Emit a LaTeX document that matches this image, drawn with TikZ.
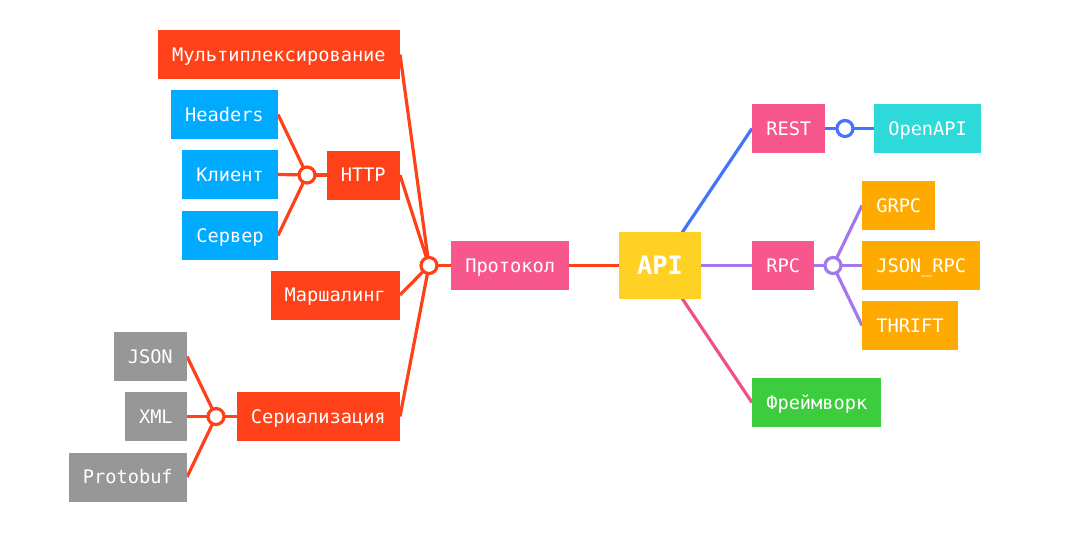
\documentclass[tikz,border=0pt]{standalone}
\usepackage{fontspec}
\setmonofont{DejaVu Sans Mono}
\usetikzlibrary{positioning,backgrounds}

\definecolor{redbox}{HTML}{FF4119}
\definecolor{bluebox}{HTML}{00AAFF}
\definecolor{greybox}{HTML}{979797}
\definecolor{pinkbox}{HTML}{F8578D}
\definecolor{yellowbox}{HTML}{FFD124}
\definecolor{cyanbox}{HTML}{2ED9D9}
\definecolor{orangebox}{HTML}{FFAA00}
\definecolor{greenbox}{HTML}{3DCC3D}
\definecolor{blueline}{HTML}{4474FF}
\definecolor{purpleline}{HTML}{A378EE}
\definecolor{pinkline}{HTML}{F0508A}

\begin{document}
\begin{tikzpicture}[
  x=0.75pt, y=-0.75pt,
  box/.style={inner xsep=10.5pt, minimum height=36.75pt,
    text height=10.2pt, text depth=0pt, text=white,
    font=\ttfamily\fontsize{14}{16}\selectfont},
  hub/.style={circle, draw=#1, line width=2.4pt, fill=white,
    inner sep=0pt, minimum size=12pt},
  link/.style={line width=2.4pt, draw=#1}
]%
  \useasboundingbox (0,0) rectangle (1070,536);

  % Protocol branch
  \node[box, fill=redbox, anchor=east] (mux) at (400,54.5) {Мультиплексирование};
  \node[box, fill=redbox, anchor=east] (http) at (400,175) {HTTP};
  \node[box, fill=redbox, anchor=east] (marsh) at (400,295) {Маршалинг};
  \node[box, fill=redbox, anchor=east] (serial) at (400,416.5) {Сериализация};
  \node[box, fill=bluebox, anchor=east] (headers) at (278,114.5) {Headers};
  \node[box, fill=bluebox, anchor=east] (client) at (278,174.5) {Клиент};
  \node[box, fill=bluebox, anchor=east] (server) at (278,235.5) {Сервер};
  \node[box, fill=greybox, anchor=east] (json) at (187,356.5) {JSON};
  \node[box, fill=greybox, anchor=east] (xml) at (187,416.5) {XML};
  \node[box, fill=greybox, anchor=east] (protobuf) at (187,477) {Protobuf};
  \node[box, fill=pinkbox, anchor=west] (proto) at (451,265.5) {Протокол};

  % Root
  \node[box, fill=yellowbox, minimum width=61.5pt, minimum height=50.25pt,
    text height=13.8pt, font=\ttfamily\bfseries\fontsize{19}{22}\selectfont]
    (api) at (660,265.5) {API};

  % Right branches
  \node[box, fill=pinkbox, anchor=west] (rest) at (752,128.5) {REST};
  \node[box, fill=cyanbox, anchor=west] (openapi) at (874,128.5) {OpenAPI};
  \node[box, fill=pinkbox, anchor=west] (rpc) at (752,265.5) {RPC};
  \node[box, fill=orangebox, anchor=west] (grpc) at (862,205.5) {GRPC};
  \node[box, fill=orangebox, anchor=west] (jsonrpc) at (862,265.5) {JSON\_RPC};
  \node[box, fill=orangebox, anchor=west] (thrift) at (862,325.5) {THRIFT};
  \node[box, fill=greenbox, anchor=west] (framework) at (752,402.5) {Фреймворк};

  % Junctions
  \node[hub=redbox] (jhttp) at (307,175) {};
  \node[hub=redbox] (jproto) at (429,265.5) {};
  \node[hub=redbox] (jserial) at (216,416.5) {};
  \node[hub=blueline] (jrest) at (845,128.5) {};
  \node[hub=purpleline] (jrpc) at (833,265.5) {};

  % Connectors
  \begin{pgfonlayer}{background}
    \draw[link=redbox] (proto.west) -- (jproto.center);
    \draw[link=redbox] (jproto.center) -- (mux.east);
    \draw[link=redbox] (jproto.center) -- (http.east);
    \draw[link=redbox] (jproto.center) -- (marsh.east);
    \draw[link=redbox] (jproto.center) -- (serial.east);
    \draw[link=redbox] (http.west) -- (jhttp.center);
    \draw[link=redbox] (jhttp.center) -- (headers.east);
    \draw[link=redbox] (jhttp.center) -- (client.east);
    \draw[link=redbox] (jhttp.center) -- (server.east);
    \draw[link=redbox] (serial.west) -- (jserial.center);
    \draw[link=redbox] (jserial.center) -- (json.east);
    \draw[link=redbox] (jserial.center) -- (xml.east);
    \draw[link=redbox] (jserial.center) -- (protobuf.east);
    \draw[link=redbox] (proto.east) -- (api.west);

    \draw[link=blueline] (api.center) -- (rest.west);
    \draw[link=blueline] (rest.east) -- (jrest.center) -- (openapi.west);
    \draw[link=purpleline] (api.east) -- (rpc.west);
    \draw[link=purpleline] (rpc.east) -- (jrpc.center);
    \draw[link=purpleline] (jrpc.center) -- (grpc.west);
    \draw[link=purpleline] (jrpc.center) -- (jsonrpc.west);
    \draw[link=purpleline] (jrpc.center) -- (thrift.west);
    \draw[link=pinkline] (api.center) -- (framework.west);
  \end{pgfonlayer}
\end{tikzpicture}
\end{document}
